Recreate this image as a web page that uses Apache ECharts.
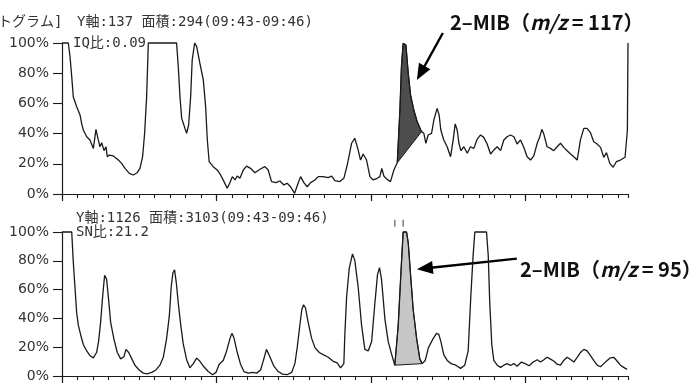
<!DOCTYPE html>
<html>
<head>
<meta charset="utf-8">
<script src="https://cdn.jsdelivr.net/npm/echarts@6/dist/echarts.min.js"></script>
<style>
  html, body { margin: 0; padding: 0; background: #fff; }
  #chart { width: 695px; height: 383px; }
</style>
</head>
<body>
<div id="chart"></div>
<script>
// Extracted-ion chromatograms, intensity in % of the Y-axis full scale.
// Time is in scan-axis units (minor tick = 1, major tick = 10).

// m/z 117 trace: [time, %]
const trace117 = [
  [0,100],[0.41,100],[0.52,90.9],[0.63,77.7],[0.73,64.4],[0.95,57.8],[1.17,52.3],[1.27,46.8],[1.38,42.4],[1.60,37.9],
  [1.81,35.8],[2.03,30.2],[2.20,42.8],[2.35,35.8],[2.46,31.3],[2.57,34.0],[2.72,28.7],[2.85,31.3],[2.93,24.7],[3.06,25.8],
  [3.32,25.2],[3.65,22.5],[3.86,20.3],[4.08,17.0],[4.36,13.7],[4.61,12.6],[4.87,14.1],[5.05,17.0],[5.22,24.7],[5.35,40.2],
  [5.48,64.4],[5.59,100],[7.42,100],[7.53,84.3],[7.64,64.4],[7.75,50.1],[7.96,43.5],[8.07,40.2],[8.20,45.7],[8.33,64.4],
  [8.43,88.7],[8.59,100],[8.72,97.6],[8.93,86.5],[9.15,75.5],[9.30,57.8],[9.41,35.8],[9.53,21.4],[9.79,18.1],[10.05,15.9],
  [10.27,12.6],[10.49,8.2],[10.70,3.8],[10.87,7.5],[11.03,11.5],[11.20,9.3],[11.35,11.9],[11.52,10.4],[11.74,15.9],[11.95,18.5],
  [12.21,17.0],[12.49,14.1],[12.82,16.4],[13.14,18.1],[13.35,15.9],[13.57,8.2],[13.85,7.5],[14.11,8.6],[14.37,6.0],[14.58,7.1],
  [14.80,4.8],[15.06,0.4],[15.30,7.5],[15.45,11.5],[15.66,7.5],[15.88,4.8],[16.10,7.5],[16.38,9.3],[16.59,11.5],[16.91,11.5],
  [17.24,10.8],[17.46,11.9],[17.67,8.8],[17.99,8.2],[18.25,10.4],[18.47,19.2],[18.75,33.6],[18.96,36.9],[19.18,29.1],[19.33,22.5],
  [19.50,26.5],[19.72,22.5],[19.94,11.5],[20.15,9.3],[20.41,10.4],[20.58,11.5],[20.71,17.0],[20.84,11.9],[21.05,9.7],[21.27,8.2],
  [21.49,15.9],[21.71,20.7],[21.88,55.6],[21.98,84.3],[22.09,99.8],[22.27,98.7],[22.42,79.9],[22.57,65.6],[22.78,55.6],[23.00,47.9],
  [23.28,41.3],[23.43,40.2],[23.56,33.6],[23.71,39.1],[23.93,40.2],[24.08,49.0],[24.29,56.7],[24.42,52.3],[24.53,42.4],[24.72,35.8],
  [24.94,31.3],[25.16,24.7],[25.33,35.8],[25.46,46.4],[25.59,42.4],[25.70,33.6],[25.83,28.7],[26.02,31.3],[26.24,27.0],[26.45,31.3],
  [26.67,30.2],[26.88,36.2],[27.10,39.1],[27.31,37.5],[27.53,33.1],[27.75,26.5],[27.96,29.1],[28.18,31.3],[28.40,28.7],[28.61,35.8],
  [28.82,37.9],[29.04,39.1],[29.26,37.9],[29.47,33.1],[29.69,35.8],[29.90,30.9],[30.12,24.7],[30.34,22.5],[30.55,25.2],[30.77,33.6],
  [30.94,37.9],[31.07,42.8],[31.20,39.7],[31.41,31.3],[31.63,30.2],[31.84,28.7],[32.06,31.3],[32.28,33.6],[32.49,30.9],[32.71,28.7],
  [32.93,26.5],[33.14,24.7],[33.36,22.5],[33.57,35.8],[33.79,43.5],[34.00,43.5],[34.22,40.6],[34.43,34.6],[34.65,33.1],[34.87,30.9],
  [35.08,24.3],[35.26,27.4],[35.47,20.3],[35.69,17.7],[35.90,21.4],[36.16,22.5],[36.46,24.3],[36.55,24.3],[36.61,42.4],[36.65,100]
];

// m/z 95 trace: [time, %]
const trace95 = [
  [0,100],[0.63,100],[0.73,79.3],[0.84,61.6],[0.95,43.9],[1.06,35.1],[1.21,28.5],[1.38,21.9],[1.60,17.4],[1.81,14.1],
  [2.03,12.6],[2.24,16.3],[2.37,24.0],[2.50,37.3],[2.63,55.0],[2.76,70.0],[2.89,67.1],[3.02,52.8],[3.15,37.3],[3.37,25.2],
  [3.58,16.3],[3.80,11.9],[4.01,13.4],[4.14,18.5],[4.32,16.3],[4.49,12.6],[4.72,7.5],[5.00,4.2],[5.26,2.0],[5.52,1.5],
  [5.81,2.5],[6.08,4.2],[6.34,7.5],[6.56,13.0],[6.77,25.8],[6.95,41.7],[7.07,61.6],[7.18,71.5],[7.29,73.7],[7.40,64.9],
  [7.53,50.5],[7.68,36.2],[7.85,22.3],[8.07,11.3],[8.28,5.7],[8.50,8.6],[8.72,12.4],[8.93,10.2],[9.19,6.4],[9.47,3.1],
  [9.75,0.9],[9.97,2.5],[10.18,8.2],[10.44,10.8],[10.66,17.4],[10.87,25.8],[11.00,29.6],[11.13,26.7],[11.35,16.3],[11.56,8.2],
  [11.78,3.1],[12.06,2.0],[12.34,2.5],[12.60,2.0],[12.86,4.2],[13.07,11.9],[13.24,18.5],[13.46,13.4],[13.72,6.8],[14.00,3.1],
  [14.28,1.3],[14.58,0.9],[14.87,2.5],[15.08,8.6],[15.23,19.7],[15.40,35.1],[15.53,46.2],[15.64,49.5],[15.77,47.2],[15.94,37.3],
  [16.16,26.3],[16.38,19.7],[16.66,16.3],[16.91,14.8],[17.24,13.0],[17.56,10.2],[17.82,9.1],[18.04,5.7],[18.25,8.6],[18.32,30.0],
  [18.43,55.0],[18.60,74.8],[18.81,84.8],[18.96,80.3],[19.18,61.6],[19.40,35.1],[19.61,18.5],[19.83,17.4],[20.05,24.0],[20.26,50.5],
  [20.43,70.4],[20.56,75.3],[20.69,67.1],[20.91,39.5],[21.12,24.0],[21.34,15.2],[21.55,7.5],[21.77,35.1],[21.94,70.4],[22.09,100],
  [22.31,100],[22.42,92.5],[22.57,70.4],[22.74,46.2],[22.96,26.3],[23.17,11.9],[23.32,8.6],[23.52,10.8],[23.73,19.7],[23.99,25.2],
  [24.25,29.6],[24.40,28.9],[24.53,24.0],[24.72,14.8],[24.94,10.8],[25.20,8.6],[25.50,7.5],[25.81,5.3],[26.08,7.5],[26.30,17.4],
  [26.47,55.0],[26.62,83.6],[26.73,100],[27.49,100],[27.60,83.6],[27.70,50.5],[27.83,21.9],[27.96,10.8],[28.18,7.5],[28.40,6.0],
  [28.61,7.5],[28.82,8.6],[29.04,7.3],[29.26,8.6],[29.47,6.8],[29.75,9.7],[29.99,8.6],[30.25,7.1],[30.51,9.7],[30.77,11.3],
  [30.98,9.7],[31.20,11.3],[31.41,13.0],[31.63,11.7],[31.84,10.4],[32.06,8.2],[32.28,7.5],[32.49,10.8],[32.71,13.0],[32.93,11.5],
  [33.14,9.7],[33.36,13.0],[33.57,16.3],[33.79,18.5],[34.00,17.4],[34.22,14.1],[34.43,10.8],[34.65,7.5],[34.87,6.4],[35.08,8.6],
  [35.30,10.8],[35.51,12.6],[35.73,13.0],[35.94,10.4],[36.16,7.5],[36.37,6.0],[36.59,4.6]
];

// Integration windows of the 2-MIB peak [start, end]
const window117 = [21.71, 23.28];
const window95 = [21.55, 23.32];

// Peak-top markers above the m/z 95 peak
const peakMarks95 = [[21.55, 106], [22.09, 106]];

// Axis settings
const timeMax = 36.65;
const majorTicks = [0, 10, 20, 30];
const percentTicks = { min: 0, max: 100, step: 20 };

// Header texts
const header117 = { cut: 'トグラム]', info: 'Y軸:137 面積:294(09:43-09:46)', ratio: 'IQ比:0.09' };
const header95 = { info: 'Y軸:1126 面積:3103(09:43-09:46)', ratio: 'SN比:21.2' };
const tag117 = { name: '2–MIB（', ion: 'm/z', rest: ' = 117）' };
const tag95 = { name: '2–MIB（', ion: 'm/z', rest: ' = 95）' };

// Arrow endpoints in data units: from label to peak
const arrow117 = { from: [24.66, 106.6], to: [22.98, 75.5] };
const arrow95 = { from: [29.45, 81.5], to: [22.98, 74.2] };

const INK = '#1a1a1a';
const TEXT = '#333';
const LABEL_FONT = "'DejaVu Sans','Noto Sans CJK JP',sans-serif";
const HEADER_FONT = "'DejaVu Sans Mono','Noto Sans CJK JP',monospace";
const BOLD_FONT = "'Noto Sans CJK JP','Liberation Sans',sans-serif";

const chart = echarts.init(document.getElementById('chart'), null, { renderer: 'canvas' });

const grids = [
  { left: 62, top: 43, width: 566, height: 151 },
  { left: 62, top: 232, width: 566, height: 151 }
];

function minorAxis(g) {
  return {
    type: 'value', gridIndex: g, position: 'bottom', min: 0, max: timeMax, interval: 1,
    axisLine: { show: true, lineStyle: { color: INK, width: 1.2 } },
    axisTick: { show: true, length: 4, lineStyle: { color: INK, width: 1.1 } },
    axisLabel: { show: false }, splitLine: { show: false }
  };
}
function majorAxis(g) {
  return {
    type: 'value', gridIndex: g, position: 'bottom', min: 0, max: timeMax,
    axisLine: { show: false },
    axisTick: { show: true, length: 7, customValues: majorTicks, lineStyle: { color: INK, width: 1.2 } },
    axisLabel: { show: false }, splitLine: { show: false }
  };
}
function percentAxis(g) {
  return {
    type: 'value', gridIndex: g, position: 'left', min: percentTicks.min, max: percentTicks.max, interval: percentTicks.step,
    axisLine: { show: true, lineStyle: { color: INK, width: 1.2 } },
    axisTick: { show: true, length: 9, lineStyle: { color: INK, width: 1.1 } },
    axisLabel: { formatter: '{value}%', fontSize: 14, color: TEXT, margin: 13, fontFamily: LABEL_FONT },
    splitLine: { show: false }
  };
}

function traceSeries(data, xi, yi) {
  return {
    type: 'line', xAxisIndex: xi, yAxisIndex: yi, data: data,
    showSymbol: false, clip: false, z: 3, animation: false,
    lineStyle: { color: INK, width: 1.3 }
  };
}

// Peak area: trace points inside the window, closed by the straight baseline
function peakArea(data, win, xi, yi, fill) {
  const pts = data.filter(p => p[0] >= win[0] && p[0] <= win[1]);
  return {
    type: 'custom', xAxisIndex: xi, yAxisIndex: yi, data: [pts[0]],
    clip: false, z: 2, animation: false, silent: true,
    renderItem: function (params, api) {
      return {
        type: 'polygon',
        shape: { points: pts.map(p => api.coord(p)) },
        style: { fill: fill, stroke: INK, lineWidth: 1 }
      };
    }
  };
}

chart.setOption({
  animation: false,
  backgroundColor: '#fff',
  grid: grids,
  xAxis: [minorAxis(0), majorAxis(0), minorAxis(1), majorAxis(1)],
  yAxis: [percentAxis(0), percentAxis(1)],
  series: [
    peakArea(trace117, window117, 0, 0, '#4d4d4d'),
    traceSeries(trace117, 0, 0),
    peakArea(trace95, window95, 2, 1, '#c6c6c6'),
    traceSeries(trace95, 2, 1),
    {
      type: 'scatter', xAxisIndex: 2, yAxisIndex: 1, data: peakMarks95,
      symbol: 'rect', symbolSize: [1.3, 7], clip: false, silent: true,
      itemStyle: { color: '#444' }
    }
  ]
});

// Annotation layer: headers, peak labels and arrows placed through the grid scales
function arrowElements(arrow, gridIndex) {
  const a = chart.convertToPixel({ gridIndex: gridIndex }, arrow.from);
  const b = chart.convertToPixel({ gridIndex: gridIndex }, arrow.to);
  const dx = b[0] - a[0], dy = b[1] - a[1];
  const len = Math.sqrt(dx * dx + dy * dy);
  const ux = dx / len, uy = dy / len;
  const head = 16, half = 6.5;
  const bx = b[0] - ux * head, by = b[1] - uy * head;
  return [
    { type: 'line', silent: true, shape: { x1: a[0], y1: a[1], x2: bx + ux * 2, y2: by + uy * 2 },
      style: { stroke: '#000', lineWidth: 2.4 } },
    { type: 'polygon', silent: true,
      shape: { points: [[b[0], b[1]], [bx - uy * half, by + ux * half], [bx + uy * half, by - ux * half]] },
      style: { fill: '#000' } }
  ];
}

function smallText(x, y, text) {
  return { type: 'text', x: x, y: y, silent: true,
    style: { text: text, fontSize: 14, fontFamily: HEADER_FONT, fill: TEXT, align: 'left', verticalAlign: 'middle' } };
}

function tagText(x, y, tag) {
  const base = { fontSize: 20, fontWeight: 'bold', fontFamily: BOLD_FONT, fill: '#111' };
  return { type: 'text', x: x, y: y, silent: true,
    style: {
      text: '{b|' + tag.name + '}{i|' + tag.ion + '}{b|' + tag.rest + '}',
      align: 'left', verticalAlign: 'middle',
      rich: { b: base, i: Object.assign({}, base, { fontStyle: 'italic' }) }
    } };
}

const elements = []
  .concat([
    smallText(-2, 22, header117.cut),
    smallText(77, 22, header117.info),
    smallText(73, 43, header117.ratio),
    smallText(76, 218, header95.info),
    smallText(76, 232, header95.ratio),
    tagText(450, 22, tag117),
    tagText(520, 269, tag95)
  ])
  .concat(arrowElements(arrow117, 0))
  .concat(arrowElements(arrow95, 1));

chart.setOption({ graphic: { elements: elements } });
</script>
</body>
</html>
